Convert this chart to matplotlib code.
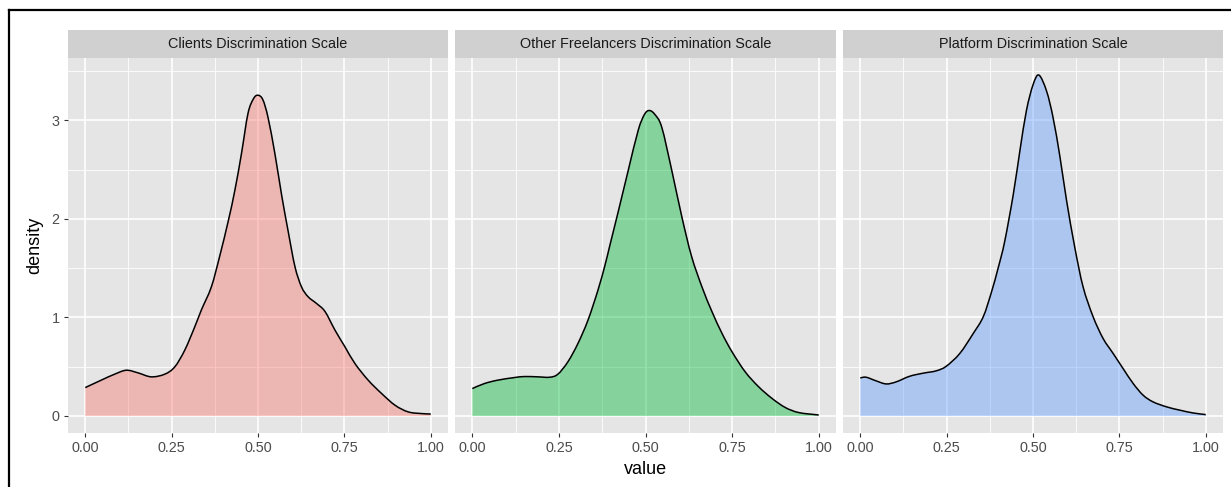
import matplotlib
matplotlib.use("Agg")
import matplotlib.pyplot as plt
from matplotlib.lines import Line2D
from matplotlib.path import Path
from matplotlib.patches import PathPatch
import numpy as np

plt.rcParams["font.family"] = ["Liberation Sans", "DejaVu Sans"]

# facet titles
panels = ["Clients Discrimination Scale",
          "Other Freelancers Discrimination Scale",
          "Platform Discrimination Scale"]

# density curves
clients_x = [0.0, 0.046, 0.085, 0.119, 0.153, 0.191, 0.23, 0.259, 0.288, 0.317,
             0.336, 0.365, 0.389, 0.414, 0.433, 0.452, 0.471, 0.487, 0.5, 0.514,
             0.529, 0.549, 0.568, 0.587, 0.607, 0.626, 0.645, 0.67, 0.694, 0.723,
             0.752, 0.781, 0.819, 0.858, 0.897, 0.935, 0.974, 1.0]
clients_y = [0.288, 0.363, 0.424, 0.464, 0.437, 0.397, 0.424, 0.498, 0.668, 0.905,
             1.075, 1.31, 1.62, 1.98, 2.29, 2.66, 3.07, 3.22, 3.255, 3.21,
             3.03, 2.66, 2.25, 1.88, 1.515, 1.31, 1.21, 1.14, 1.06, 0.87,
             0.70, 0.53, 0.363, 0.227, 0.108, 0.041, 0.024, 0.02]

others_x = [0.0, 0.035, 0.073, 0.122, 0.151, 0.189, 0.223, 0.247, 0.276, 0.305,
            0.334, 0.363, 0.383, 0.397, 0.421, 0.45, 0.479, 0.497, 0.511, 0.527,
            0.547, 0.576, 0.605, 0.633, 0.663, 0.692, 0.721, 0.75, 0.788, 0.827,
            0.866, 0.904, 0.943, 1.0]
others_y = [0.278, 0.329, 0.363, 0.39, 0.40, 0.397, 0.393, 0.424, 0.55, 0.736,
            0.973, 1.28, 1.53, 1.73, 2.07, 2.49, 2.90, 3.06, 3.10, 3.06,
            2.93, 2.49, 2.02, 1.62, 1.31, 1.058, 0.837, 0.65, 0.447, 0.295,
            0.176, 0.085, 0.034, 0.01]

platform_x = [0.0, 0.017, 0.046, 0.075, 0.104, 0.143, 0.182, 0.22, 0.249, 0.288,
              0.327, 0.356, 0.38, 0.399, 0.418, 0.443, 0.462, 0.481, 0.5, 0.517,
              0.539, 0.558, 0.578, 0.597, 0.621, 0.645, 0.674, 0.703, 0.732, 0.761,
              0.79, 0.819, 0.848, 0.887, 0.926, 0.964, 1.0]
platform_y = [0.386, 0.393, 0.356, 0.325, 0.346, 0.403, 0.434, 0.458, 0.505, 0.634,
              0.837, 1.007, 1.26, 1.50, 1.77, 2.25, 2.69, 3.10, 3.36, 3.46,
              3.30, 3.03, 2.63, 2.19, 1.71, 1.31, 1.007, 0.786, 0.634, 0.48,
              0.329, 0.21, 0.142, 0.092, 0.058, 0.03, 0.014]

curves_x = [clients_x, others_x, platform_x]
curves_y = [clients_y, others_y, platform_y]
fills = ["#F8766D", "#00BA38", "#619CFF"]

x_major = [0.0, 0.25, 0.5, 0.75, 1.0]
x_labels = ["0.00", "0.25", "0.50", "0.75", "1.00"]
y_major = [0, 1, 2, 3]


def smooth_path(xs, ys, closed=False):
    """bezier path through the points (catmull-rom control points)"""
    p = np.column_stack([xs, ys])
    n = len(p)
    verts = [p[0]]
    codes = [Path.MOVETO]
    for i in range(n - 1):
        a = p[i - 1] if i > 0 else p[i]
        d = p[i + 2] if i + 2 < n else p[i + 1]
        c1 = p[i] + (p[i + 1] - a) / 6
        c2 = p[i + 1] - (d - p[i]) / 6
        verts += [c1, c2, p[i + 1]]
        codes += [Path.CURVE4] * 3
    if closed:
        verts += [(xs[-1], 0), (xs[0], 0), p[0]]
        codes += [Path.LINETO, Path.LINETO, Path.CLOSEPOLY]
    return Path(verts, codes)


W, H = 1231, 487
fig = plt.figure(figsize=(W / 100, H / 100), dpi=100)

lefts = [68, 455, 843]
widths = [380, 381, 380]
top, bottom = 58, 433
strip_h = 28

for i in range(3):
    ax = fig.add_axes([lefts[i] / W, 1 - bottom / H, widths[i] / W, (bottom - top) / H])
    ax.set_facecolor("#E5E5E5")
    ax.set_xlim(-0.05, 1.05)
    ax.set_ylim(-0.173, 3.633)
    ax.set_xticks(x_major)
    ax.set_xticklabels(x_labels)
    ax.set_xticks([0.125, 0.375, 0.625, 0.875], minor=True)
    ax.set_yticks(y_major)
    ax.set_yticks([0.5, 1.5, 2.5, 3.5], minor=True)
    ax.grid(which="major", color="white", linewidth=1.2)
    ax.grid(which="minor", color="white", linewidth=0.6)
    ax.set_axisbelow(True)
    for s in ax.spines.values():
        s.set_visible(False)
    ax.tick_params(which="major", length=3, width=0.8, color="#333333",
                   labelcolor="#4D4D4D", labelsize=10.4, pad=3)
    ax.tick_params(which="minor", length=0)
    if i > 0:
        ax.tick_params(axis="y", which="major", length=0, labelleft=False)

    ax.add_patch(PathPatch(smooth_path(curves_x[i], curves_y[i], closed=True),
                           facecolor=fills[i], alpha=0.42, linewidth=0))
    ax.add_patch(PathPatch(smooth_path(curves_x[i], curves_y[i]),
                           facecolor="none", edgecolor="black", linewidth=1.1))

    # facet strip
    sax = fig.add_axes([lefts[i] / W, 1 - top / H, widths[i] / W, strip_h / H])
    sax.set_facecolor("#D0D0D0")
    sax.set_xticks([])
    sax.set_yticks([])
    for s in sax.spines.values():
        s.set_visible(False)
    sax.text(0.5, 0.5, panels[i], ha="center", va="center",
             fontsize=10.4, color="#1A1A1A", transform=sax.transAxes)

    if i == 0:
        ax.set_ylabel("density", fontsize=13, color="black", labelpad=6)
    if i == 1:
        ax.set_xlabel("value", fontsize=13, color="black", labelpad=4)

# black frame at top and left
fig.add_artist(Line2D([9 / W, 1], [1 - 10 / H, 1 - 10 / H], color="black", linewidth=1.6))
fig.add_artist(Line2D([9 / W, 9 / W], [0, 1 - 10 / H], color="black", linewidth=1.6))

fig.savefig("out.png", dpi=100)
